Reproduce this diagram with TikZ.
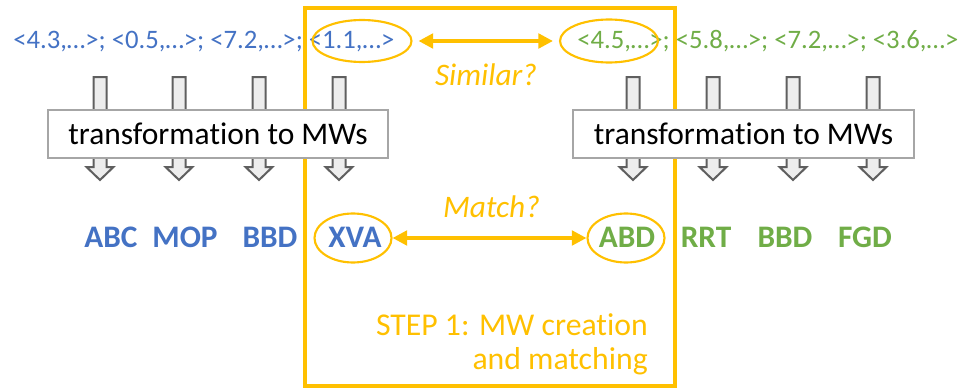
\documentclass[tikz,border=0pt]{standalone}
\usepackage{fontspec}
\setmainfont{Carlito}[Ligatures={NoCommon,NoDiscretionary,NoRare}]
\usetikzlibrary{arrows.meta,shapes.geometric}
\definecolor{mwblue}{HTML}{4472C4}
\definecolor{mwgreen}{HTML}{70AD47}
\definecolor{mwgold}{HTML}{FFC000}
\definecolor{arrowedge}{HTML}{5F5F5F}
\definecolor{arrowfill}{HTML}{EDEDED}
\definecolor{boxedge}{HTML}{A6A6A6}
\newcommand{\transtext}{transforma\kern0pt tion to MWs}
\tikzset{
  vecline/.style={inner sep=0pt, anchor=base west, font=\fontsize{20}{24}\selectfont},
  ring/.style={draw=mwgold, line width=1.6pt, ellipse, inner sep=0pt},
  question/.style={text=mwgold, inner sep=0pt, anchor=base, font=\fontsize{23.5}{28}\selectfont\itshape},
  twoway/.style={draw=mwgold, line width=2.6pt, {Triangle[length=11pt,width=11pt]}-{Triangle[length=11pt,width=11pt]}},
  blockarrow/.style={draw=arrowedge, fill=arrowfill, line width=1.5pt, line join=miter},
  transbox/.style={draw=boxedge, fill=white, line width=1.2pt, inner sep=0pt,
    font=\fontsize{23.6}{28}\selectfont},
  mwlabel/.style={inner sep=0pt, anchor=base, font=\fontsize{23.5}{28}\selectfont\bfseries},
}
\begin{document}
\begin{tikzpicture}[x=0.75pt, y=-0.75pt]
\useasboundingbox (0,0) rectangle (961,389);

% step frame
\draw[mwgold, line width=2.4pt] (305,8) rectangle (675,386);

% feature vectors of both series
\node[vecline, text=mwblue] (vleft) at (13,48) {<4.3,…>; <0.5,…>; <7.2,…>; <1.1,…>};
\node[vecline, text=mwgreen] (vright) at (577,48) {<4.5,…>; <5.8,…>; <7.2,…>; <3.6,…>};

% block arrows through the transformation boxes
\foreach \cx in {100,179,259,339,633,713,793,873}{
  \draw[blockarrow] (\cx-6.5,77) -- (\cx+6.5,77) -- (\cx+6.5,167) -- (\cx+13.5,167)
    -- (\cx,180) -- (\cx-13.5,167) -- (\cx-6.5,167) -- cycle;
}
\node[transbox, minimum width=340*0.75pt, minimum height=48*0.75pt] (tleft) at (218,134) {\transtext};
\node[transbox, minimum width=341*0.75pt, minimum height=48*0.75pt] (tright) at (743.5,134) {\transtext};

% compared vectors
\node[ring, minimum width=99*0.75pt, minimum height=42*0.75pt] (sa) at (362,41) {};
\node[ring, minimum width=98*0.75pt, minimum height=43*0.75pt] (sb) at (609,41) {};
\draw[twoway, shorten <=4.5pt, shorten >=4.5pt] (sa) -- (sb);
\node[question] (similar) at (486,85) {Similar?};

% MW words
\node[mwlabel, text=mwblue] (w1) at (111,247) {ABC};
\node[mwlabel, text=mwblue] (w2) at (185,247) {MOP};
\node[mwlabel, text=mwblue] (w3) at (270,247) {BBD};
\node[mwlabel, text=mwblue] (w4) at (355,247) {XVA};
\node[mwlabel, text=mwgreen] (w5) at (627,247) {ABD};
\node[mwlabel, text=mwgreen] (w6) at (706,247) {RRT};
\node[mwlabel, text=mwgreen] (w7) at (785,247) {BBD};
\node[mwlabel, text=mwgreen] (w8) at (865,247) {FGD};

% matched words
\node[ring, minimum width=77*0.75pt, minimum height=49*0.75pt] (ma) at (353,238) {};
\node[ring, minimum width=77*0.75pt, minimum height=49*0.75pt] (mb) at (626,238) {};
\draw[twoway] (ma) -- (mb);
\node[question] (match) at (491.5,217) {Match?};

% step caption
\node[text=mwgold, inner sep=0pt, anchor=north east, align=right,
  font=\fontsize{23.8}{25.5}\selectfont] (caption) at (648,313) {STEP 1: MW creation\\and matching};
\end{tikzpicture}
\end{document}
